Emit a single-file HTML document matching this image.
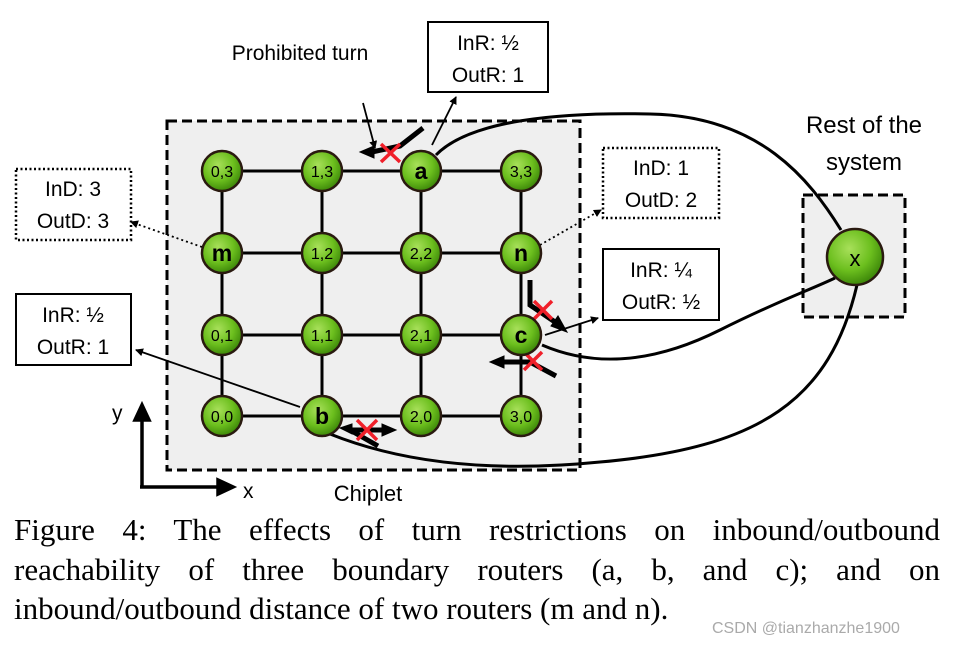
<!DOCTYPE html>
<html><head><meta charset="utf-8"><style>
body{margin:0;background:#fff;width:956px;height:647px;overflow:hidden}
svg{display:block}
.cap{position:absolute;left:14px;top:510px;font-family:"Liberation Serif",serif;font-size:31px;line-height:39.5px;color:#000;width:926px}
.cap div{text-align:justify;text-align-last:justify;white-space:nowrap}
.cap div.l{text-align-last:left}
</style></head><body>
<svg width="956" height="647" viewBox="0 0 956 647" font-family="Liberation Sans, sans-serif">
<defs>
<radialGradient id="g" cx="40%" cy="35%" r="65%"><stop offset="0" stop-color="#a8e05a"/><stop offset="0.6" stop-color="#6cbf1e"/><stop offset="1" stop-color="#3f8a0a"/></radialGradient>
<marker id="ar" markerWidth="8" markerHeight="8" refX="7" refY="4" orient="auto" markerUnits="userSpaceOnUse"><path d="M0,0 L8,4 L0,8 z" fill="#000"/></marker>
</defs>
<rect x="167" y="121" width="413" height="349" fill="#efefef" stroke="#000" stroke-width="3" stroke-dasharray="10,5"/>
<rect x="803" y="195" width="102" height="122" fill="#efefef" stroke="#000" stroke-width="3" stroke-dasharray="10,5"/>
<g stroke="#000" stroke-width="3">
<line x1="222" y1="171" x2="521" y2="171"/><line x1="222" y1="253" x2="521" y2="253"/><line x1="222" y1="335" x2="521" y2="335"/><line x1="222" y1="416" x2="521" y2="416"/>
<line x1="222" y1="171" x2="222" y2="416"/><line x1="322" y1="171" x2="322" y2="416"/><line x1="421" y1="171" x2="421" y2="416"/><line x1="521" y1="171" x2="521" y2="416"/>
</g>
<g fill="none" stroke="#000" stroke-width="3">
<path d="M436,155 C470,120 560,112 650,114 C760,116 810,180 841,230"/>
<path d="M542,345 C600,370 660,360 720,330 C780,300 810,290 835,278"/>
<path d="M330,434 C420,470 520,470 600,462 C760,448 830,400 857,285"/>
</g>
<g stroke="#000" stroke-width="1.8" fill="none">
<line x1="300" y1="407" x2="136" y2="350" marker-end="url(#ar)"/>
<line x1="363" y1="103" x2="375" y2="148" marker-end="url(#ar)"/>
<line x1="432" y1="145" x2="456" y2="97" marker-end="url(#ar)"/>
<line x1="545" y1="335" x2="598" y2="318" marker-end="url(#ar)"/>
<line x1="202" y1="247" x2="131" y2="222" stroke-dasharray="2,3" marker-end="url(#ar)"/>
<line x1="540" y1="245" x2="601" y2="210" stroke-dasharray="2,3" marker-end="url(#ar)"/>
</g>
<g stroke="#000" fill="#000">
<path d="M423,128 L400,146 L372,152" fill="none" stroke-width="5"/><path d="M360,152 L374,146 L374,158z"/>
<path d="M530,280 L530,305 L555,322" fill="none" stroke-width="5"/><path d="M567,332 L551,326 L558,316z"/>
<path d="M556,376 L530,362 L502,362" fill="none" stroke-width="5"/><path d="M490,362 L504,356 L504,368z"/>
<path d="M378,446 L350,430 L385,430" fill="none" stroke-width="5"/><path d="M396,430 L382,424 L382,436z"/><path d="M340,428 L352,424 L352,434z"/>
</g>
<g stroke="#f0202a" stroke-width="3.5">
<path d="M381,144 L400,162 M400,144 L381,162"/>
<path d="M534,301 L552,319 M552,301 L534,319"/>
<path d="M524,352 L542,370 M542,352 L524,370"/>
<path d="M357,420 L377,440 M377,420 L357,440"/>
</g>
<g stroke="#2a1a10" stroke-width="2.5" fill="url(#g)">
<circle cx="222" cy="171" r="20"/><circle cx="322" cy="171" r="20"/><circle cx="421" cy="171" r="20"/><circle cx="521" cy="171" r="20"/>
<circle cx="222" cy="253" r="20"/><circle cx="322" cy="253" r="20"/><circle cx="421" cy="253" r="20"/><circle cx="521" cy="253" r="20"/>
<circle cx="222" cy="335" r="20"/><circle cx="322" cy="335" r="20"/><circle cx="421" cy="335" r="20"/><circle cx="521" cy="335" r="20"/>
<circle cx="222" cy="416" r="20"/><circle cx="322" cy="416" r="20"/><circle cx="421" cy="416" r="20"/><circle cx="521" cy="416" r="20"/>
<circle cx="855" cy="257" r="28"/>
</g>
<g font-size="16" text-anchor="middle" fill="#000">
<text x="222" y="177">0,3</text><text x="322" y="177">1,3</text><text x="521" y="177">3,3</text>
<text x="322" y="259">1,2</text><text x="421" y="259">2,2</text>
<text x="222" y="341">0,1</text><text x="322" y="341">1,1</text><text x="421" y="341">2,1</text>
<text x="222" y="422">0,0</text><text x="421" y="422">2,0</text><text x="521" y="422">3,0</text>
</g>
<g font-size="23" font-weight="bold" text-anchor="middle">
<text x="421" y="179">a</text><text x="222" y="261">m</text><text x="521" y="261">n</text><text x="521" y="343">c</text><text x="322" y="424">b</text>
</g>
<text x="855" y="266" font-size="22" text-anchor="middle">x</text>
<g fill="#fff" stroke="#000" stroke-width="2">
<rect x="428" y="22" width="120" height="70"/>
<rect x="603" y="249" width="116" height="71"/>
<rect x="16" y="294" width="115" height="71"/>
</g>
<g fill="#fff" stroke="#000" stroke-width="2.5" stroke-dasharray="2,2.5">
<rect x="603" y="148" width="116" height="70"/>
<rect x="16" y="169" width="115" height="71"/>
</g>
<g font-size="21" text-anchor="middle">
<text x="488" y="50">InR: ½</text><text x="488" y="82">OutR: 1</text>
<text x="661" y="277">InR: ¼</text><text x="661" y="309">OutR: ½</text>
<text x="73" y="322">InR: ½</text><text x="73" y="354">OutR: 1</text>
<text x="661" y="175">InD: 1</text><text x="661" y="207">OutD: 2</text>
<text x="73" y="196">InD: 3</text><text x="73" y="228">OutD: 3</text>
<text x="300" y="60">Prohibited turn</text>
<text x="864" y="133" font-size="24">Rest of the</text>
<text x="864" y="170" font-size="24">system</text>
<text x="368" y="501" font-size="22">Chiplet</text>
</g>
<g stroke="#000" stroke-width="3.5" fill="#000">
<line x1="142" y1="487" x2="142" y2="418"/><path d="M142,405 L135,420 L149,420z"/>
<line x1="140" y1="487" x2="220" y2="487"/><path d="M233,487 L218,480 L218,494z"/>
</g>
<text x="112" y="420" font-size="21">y</text>
<text x="243" y="498" font-size="21">x</text>
</svg>
<div class="cap">
<div>Figure 4: The effects of turn restrictions on inbound/outbound</div>
<div>reachability of three boundary routers (a, b, and c); and on</div>
<div class="l">inbound/outbound distance of two routers (m and n).</div>
</div>
<div style="position:absolute;left:712px;top:620px;font-family:'Liberation Sans',sans-serif;font-size:16px;color:#aaa">CSDN @tianzhanzhe1900</div>
</body></html>
